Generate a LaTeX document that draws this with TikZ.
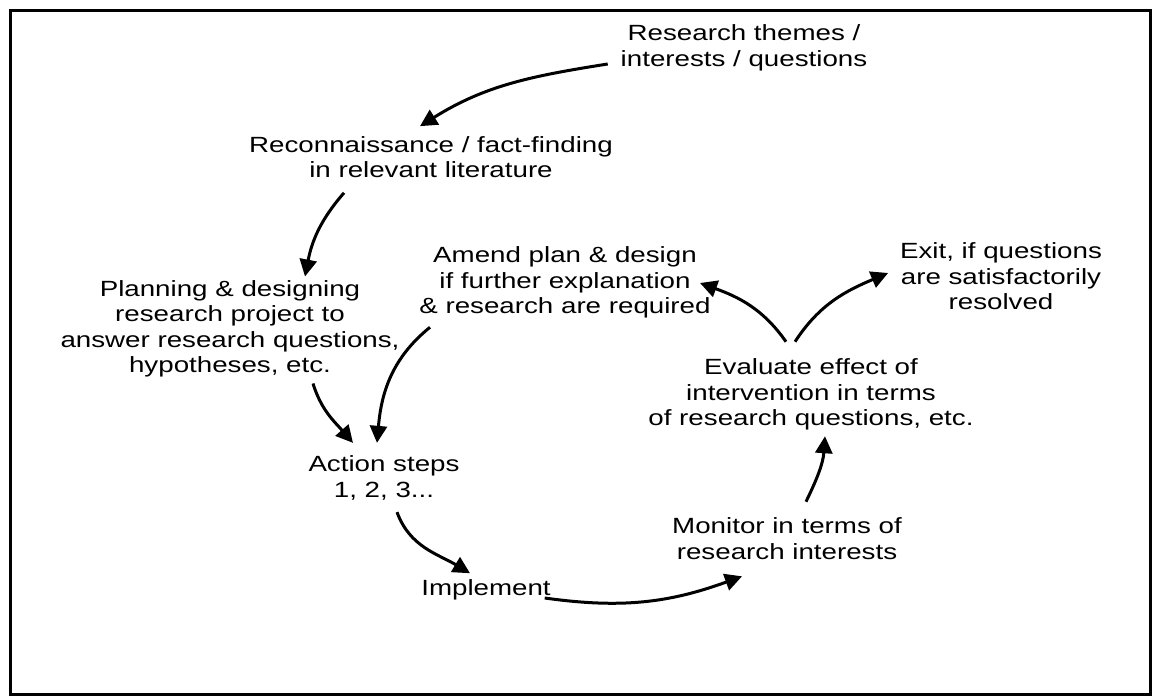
\documentclass[tikz,border=0pt]{standalone}
\usepackage{fontspec}
\setmainfont{Liberation Sans}[FakeStretch=1.26]
\usetikzlibrary{arrows.meta,calc}
\begin{document}
\begin{tikzpicture}[x=1pt,y=1pt,
  txt/.style={align=center,inner sep=0pt,outer sep=0pt,text=black,
    font=\fontsize{22}{25.5}\selectfont},
  arr/.style={line width=3pt,-{Triangle[length=17pt,width=17pt]}}]
\useasboundingbox (0,0) rectangle (1159,698);
\draw[line width=3pt] (10,3) rectangle (1150,687);

\node[txt] (res)   at (744,650)   {Research themes /\\interests / questions};
\node[txt] (recon) at (431,541)   {Reconnaissance / fact-finding\\in relevant literature};
\node[txt] (plan)  at (230,369)   {Planning \& designing\\research project to\\answer research questions,\\hypotheses, etc.};
\node[txt] (amend) at (565,415.5) {Amend plan \& design\\if further explanation\\\& research are required};
\node[txt] (exitn) at (1001,421.5){Exit, if questions\\are satisfactorily\\resolved};
\node[txt] (eval)  at (811,303.5) {Evaluate effect of\\intervention in terms\\of research questions, etc.};
\node[txt] (mon)   at (787,159.5) {Monitor in terms of\\research interests};
\node[txt] (act)   at (384,220)   {Action steps\\1, 2, 3...};
\node[txt] (impl)  at (486,108.5) {Implement};

\draw[arr] ($(res.west)+(-13,-16)$)   to[out=189,in=32]  ($(recon.north)+(-11,10)$);
\draw[arr] ($(recon.south)+(-87,-15)$) to[out=229,in=79]  ($(plan.north)+(75,4)$);
\draw[arr] ($(plan.south)+(83,-6)$)   to[out=-73,in=131] ($(act.north)+(-31,13)$);
\draw[arr] ($(amend.south)+(-135,-9)$) to[out=219,in=85]  ($(act.north)+(-7,13)$);
\draw[arr] ($(act.south)+(13,-12)$)   to[out=-70,in=149] ($(impl.north)+(-16,6)$);
\draw[arr] ($(impl.east)+(-6,-8.5)$)  to[out=-8,in=200]  ($(mon.south)+(-45,-17)$);
\draw[arr] ($(mon.north)+(19,16)$)    to[out=64,in=-94]  ($(eval.south)+(14,-6)$);
\draw[arr] ($(eval.north)+(-25,17)$)  to[out=125,in=-20] ($(amend.east)+(-10.6,-0.5)$);
\draw[arr] ($(eval.north)+(-16,17)$)  to[out=57,in=203]  ($(exitn.west)+(-12,3.5)$);
\end{tikzpicture}
\end{document}
